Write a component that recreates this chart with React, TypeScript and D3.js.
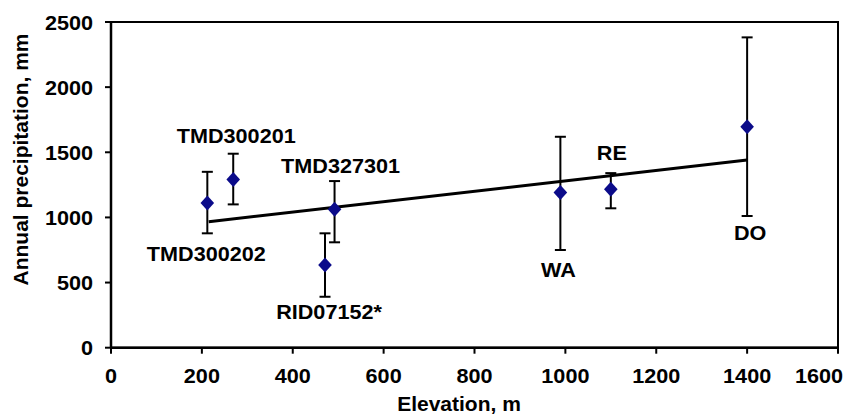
import React from "react";
import * as d3 from "d3";

const stations = ["TMD300202", "TMD300201", "RID07152*", "TMD327301", "WA", "RE", "DO"];
const elevation = [212, 269, 471, 492, 989, 1100, 1400];
const precipitation = [1110, 1292, 635, 1062, 1192, 1216, 1696];
const errLow = [878, 1100, 391, 809, 750, 1070, 1011];
const errHigh = [1350, 1489, 878, 1279, 1619, 1340, 2382];
const trendX = [215, 1400];
const trendY = [967, 1441];
const xTicks = [0, 200, 400, 600, 800, 1000, 1200, 1400, 1600];
const yTicks = [0, 500, 1000, 1500, 2000, 2500];

// label placement: below the lower cap ("low") or above the point ("pt"), pixel offsets
const labelPlace = [
  { side: "low", dx: -1, dy: 28 },
  { side: "pt", dx: 3, dy: -36 },
  { side: "low", dx: 4, dy: 22 },
  { side: "pt", dx: 6, dy: -36 },
  { side: "low", dx: -2, dy: 27 },
  { side: "pt", dx: 1, dy: -29 },
  { side: "low", dx: 3, dy: 24 },
];

const W = 845;
const H = 416;
const left = 111;
const right = 838;
const top = 22;
const bottom = 347.7;
const FONT = "'Liberation Sans', Arial, sans-serif";
const FS = 21;

const diamond = {
  draw(ctx: any, size: number) {
    const hh = 7.5;
    const hw = 6.8;
    ctx.moveTo(0, -hh);
    ctx.lineTo(hw, 0);
    ctx.lineTo(0, hh);
    ctx.lineTo(-hw, 0);
    ctx.closePath();
  },
};

export default function App() {
  const x = d3.scaleLinear().domain([0, 1600]).range([left, right]);
  const y = d3.scaleLinear().domain([0, 2500]).range([bottom, top]);
  const sym = d3.symbol().type(diamond as any).size(100)();
  const line = d3
    .line<number>()
    .x((_, i) => x(trendX[i]))
    .y((d) => y(d));

  return (
    <svg
      width={W}
      height={H}
      style={{ position: "absolute", left: 0, top: 0, background: "#fff" }}
      fontFamily={FONT}
      fontWeight="bold"
      fontSize={FS}
    >
      <rect x={0} y={0} width={W} height={H} fill="#fff" />
      <rect x={left} y={top} width={right - left} height={bottom - top} fill="none" stroke="#000" strokeWidth={2} />
      <line x1={left} x2={left} y1={top} y2={bottom} stroke="#000" strokeWidth={2.5} />
      <line x1={left} x2={right} y1={bottom} y2={bottom} stroke="#000" strokeWidth={2.5} />
      {xTicks.map((t, i) => {
        const last = i === xTicks.length - 1;
        const tx = last ? W - 2 : x(t);
        return (
          <g key={"xt" + t}>
            <line x1={x(t)} x2={x(t)} y1={bottom} y2={bottom + 6} stroke="#000" strokeWidth={2} />
            <text transform={`translate(${tx},${383}) scale(1.03,1)`} textAnchor={last ? "end" : "middle"}>
              {t}
            </text>
          </g>
        );
      })}
      {yTicks.map((t) => (
        <g key={"yt" + t}>
          <line x1={left - 6} x2={left} y1={y(t)} y2={y(t)} stroke="#000" strokeWidth={2} />
          <text transform={`translate(${93},${y(t) + 7.5}) scale(1.03,1)`} textAnchor="end">
            {t}
          </text>
        </g>
      ))}
      <text x={459} y={411} textAnchor="middle">
        Elevation, m
      </text>
      <text transform={`translate(28,159.5) rotate(-90)`} textAnchor="middle">
        Annual precipitation, mm
      </text>

      <path d={line(trendY) || ""} fill="none" stroke="#000" strokeWidth={3} />

      {elevation.map((e, i) => (
        <g key={"eb" + i} stroke="#000" strokeWidth={2}>
          <line x1={x(e)} x2={x(e)} y1={y(errLow[i])} y2={y(errHigh[i])} />
          <line x1={x(e) - 5.5} x2={x(e) + 5.5} y1={y(errLow[i])} y2={y(errLow[i])} />
          <line x1={x(e) - 5.5} x2={x(e) + 5.5} y1={y(errHigh[i])} y2={y(errHigh[i])} />
        </g>
      ))}
      {elevation.map((e, i) => (
        <path key={"m" + i} d={sym || ""} transform={`translate(${x(e)},${y(precipitation[i])})`} fill="#0b0b8a" />
      ))}
      {stations.map((s, i) => {
        const p = labelPlace[i];
        const ax = x(elevation[i]) + p.dx;
        const ay = (p.side === "low" ? y(errLow[i]) : y(precipitation[i])) + p.dy;
        return (
          <text key={"l" + i} transform={`translate(${ax},${ay}) scale(1.03,1)`} textAnchor="middle">
            {s}
          </text>
        );
      })}
    </svg>
  );
}
